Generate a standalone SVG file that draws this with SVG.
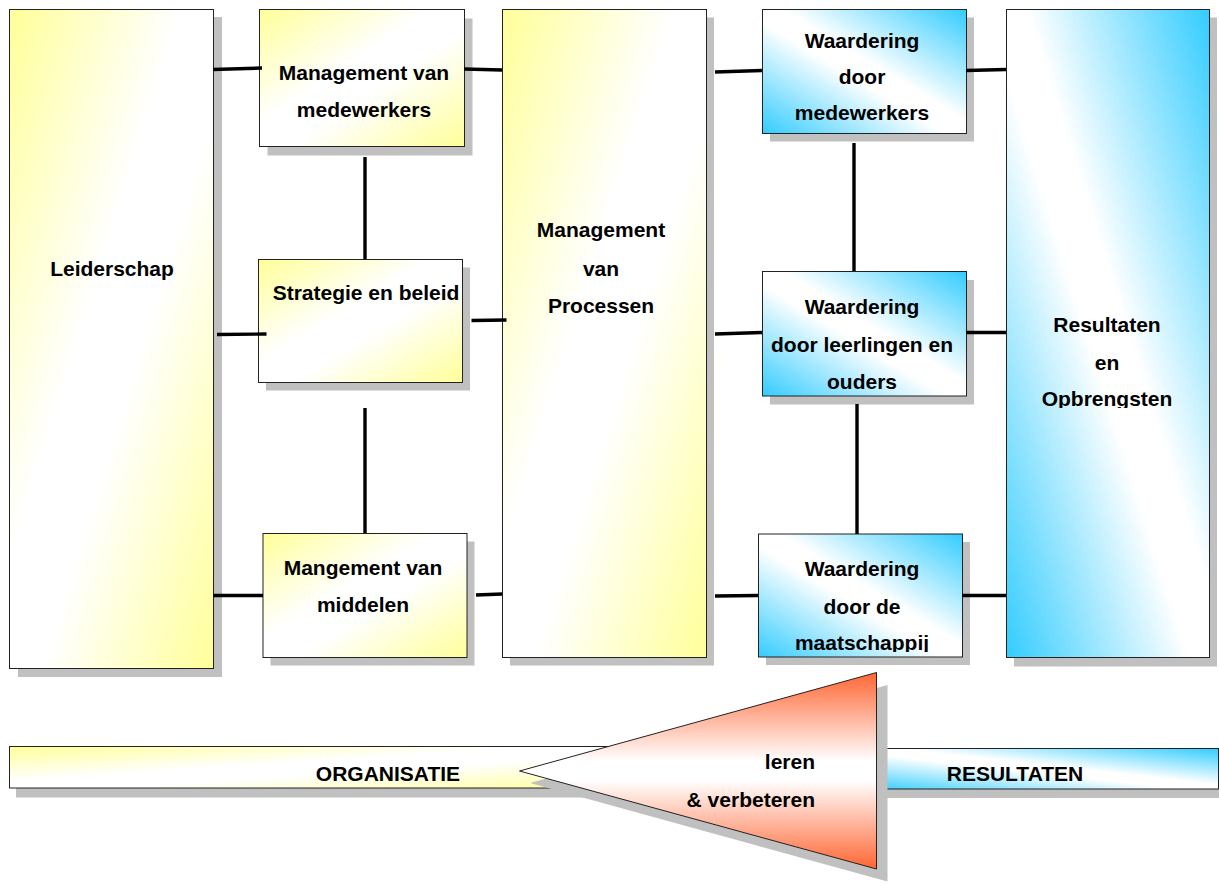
<svg xmlns="http://www.w3.org/2000/svg" width="1219" height="884" viewBox="0 0 1219 884">
  <defs>
    <!-- diagonal yellow / white / yellow fill -->
    <linearGradient id="gYellow" x1="0" y1="0" x2="1" y2="1">
      <stop offset="0" stop-color="#ffff99"/>
      <stop offset="0.42" stop-color="#ffffff"/>
      <stop offset="0.58" stop-color="#ffffff"/>
      <stop offset="1" stop-color="#ffff99"/>
    </linearGradient>
    <!-- diagonal blue / white / blue fill -->
    <linearGradient id="gBlue" x1="0" y1="1" x2="1" y2="0">
      <stop offset="0" stop-color="#33ccff"/>
      <stop offset="0.45" stop-color="#ffffff"/>
      <stop offset="0.55" stop-color="#ffffff"/>
      <stop offset="1" stop-color="#33ccff"/>
    </linearGradient>
    <!-- vertical orange / white / orange fill -->
    <linearGradient id="gOrange" x1="0" y1="0" x2="0" y2="1">
      <stop offset="0" stop-color="#ff6633"/>
      <stop offset="0.45" stop-color="#ffffff"/>
      <stop offset="0.55" stop-color="#ffffff"/>
      <stop offset="1" stop-color="#ff6633"/>
    </linearGradient>
    <clipPath id="clipMaat"><rect x="758" y="534" width="204" height="118"/></clipPath>
    <clipPath id="clipRes"><rect x="1006" y="9" width="203" height="399"/></clipPath>
    <style>
      .shadow { fill: #c0c0c0; }
      .box { stroke: #222222; stroke-width: 1; }
      .yel { fill: url(#gYellow); }
      .blu { fill: url(#gBlue); }
      .lbl { font-family: "Liberation Sans", Arial, Helvetica, sans-serif; font-weight: bold; font-size: 21px; fill: #000000; text-anchor: middle; }
      .conn { stroke: #000000; stroke-width: 3.4; fill: none; }
    </style>
  </defs>

  <rect width="1219" height="884" fill="#ffffff"/>

  <!-- left column -->
  <g id="leiderschap">
    <rect class="shadow" x="18" y="17" width="204" height="660"/>
    <rect class="box yel" x="9.5" y="9.5" width="204" height="659"/>
    <text class="lbl" x="112" y="276">Leiderschap</text>
  </g>

  <g id="management-medewerkers">
    <rect class="shadow" x="267.5" y="18.5" width="205" height="137"/>
    <rect class="box yel" x="259.5" y="9.5" width="205" height="137"/>
    <text class="lbl" x="364" y="80">Management van</text>
    <text class="lbl" x="364" y="117">medewerkers</text>
  </g>

  <g id="strategie-beleid">
    <rect class="shadow" x="266" y="267.5" width="204" height="123"/>
    <rect class="box yel" x="258.5" y="259.5" width="204" height="123"/>
    <text class="lbl" x="366" y="300">Strategie en beleid</text>
  </g>

  <g id="management-middelen">
    <rect class="shadow" x="270.5" y="541.5" width="204" height="124"/>
    <rect class="box yel" x="263" y="533.5" width="204" height="124"/>
    <text class="lbl" x="363" y="575">Mangement van</text>
    <text class="lbl" x="363" y="612">middelen</text>
  </g>

  <g id="management-processen">
    <rect class="shadow" x="510" y="17.5" width="204" height="648"/>
    <rect class="box yel" x="502.5" y="9.5" width="204" height="648"/>
    <text class="lbl" x="601" y="237">Management</text>
    <text class="lbl" x="601" y="276">van</text>
    <text class="lbl" x="601" y="313">Processen</text>
  </g>

  <!-- right column -->
  <g id="waardering-medewerkers">
    <rect class="shadow" x="770" y="17.5" width="204" height="124"/>
    <rect class="box blu" x="762.5" y="9.5" width="204" height="124"/>
    <text class="lbl" x="862" y="48">Waardering</text>
    <text class="lbl" x="862" y="84">door</text>
    <text class="lbl" x="862" y="120">medewerkers</text>
  </g>

  <g id="waardering-leerlingen-ouders">
    <rect class="shadow" x="770" y="280" width="204" height="124.5"/>
    <rect class="box blu" x="762.5" y="271.5" width="204" height="124.5"/>
    <text class="lbl" x="862" y="314">Waardering</text>
    <text class="lbl" x="862" y="352">door leerlingen en</text>
    <text class="lbl" x="862" y="389">ouders</text>
  </g>

  <g id="waardering-maatschappij">
    <rect class="shadow" x="766" y="542" width="204" height="123"/>
    <rect class="box blu" x="758.5" y="534" width="204" height="123"/>
    <g clip-path="url(#clipMaat)">
      <text class="lbl" x="862" y="576">Waardering</text>
      <text class="lbl" x="862" y="614">door de</text>
      <text class="lbl" x="862" y="650">maatschappij</text>
    </g>
  </g>

  <g id="resultaten-opbrengsten">
    <rect class="shadow" x="1014" y="17.5" width="203" height="649"/>
    <rect class="box blu" x="1006.5" y="9.5" width="203" height="648"/>
    <g clip-path="url(#clipRes)">
      <text class="lbl" x="1107" y="332">Resultaten</text>
      <text class="lbl" x="1107" y="370">en</text>
      <text class="lbl" x="1107" y="406">Opbrengsten</text>
    </g>
  </g>

  <!-- links between the blocks -->
  <g id="connectors">
    <line class="conn" x1="213" y1="69.5" x2="262" y2="68"/>
    <line class="conn" x1="464" y1="69" x2="502" y2="70"/>
    <line class="conn" x1="365" y1="157" x2="365" y2="259"/>
    <line class="conn" x1="365" y1="408" x2="365" y2="533"/>
    <line class="conn" x1="217" y1="334.5" x2="266.5" y2="334"/>
    <line class="conn" x1="471.5" y1="320.5" x2="506.5" y2="320"/>
    <line class="conn" x1="213" y1="595.5" x2="263" y2="595.5"/>
    <line class="conn" x1="476" y1="595" x2="502" y2="594"/>
    <line class="conn" x1="715" y1="72" x2="762" y2="70.5"/>
    <line class="conn" x1="966" y1="70.5" x2="1006" y2="69.5"/>
    <line class="conn" x1="854" y1="143" x2="854" y2="271"/>
    <line class="conn" x1="715" y1="334" x2="762" y2="332.5"/>
    <line class="conn" x1="966" y1="332.5" x2="1006" y2="332.5"/>
    <line class="conn" x1="857" y1="404" x2="857" y2="534"/>
    <line class="conn" x1="715" y1="596" x2="758" y2="595.5"/>
    <line class="conn" x1="962" y1="595.5" x2="1006" y2="595.5"/>
  </g>

  <!-- bottom band -->
  <g id="organisatie">
    <rect class="shadow" x="16" y="754" width="631" height="43.5"/>
    <rect class="box yel" x="9.5" y="746.5" width="631" height="41.5"/>
    <text class="lbl" x="388" y="781">ORGANISATIE</text>
  </g>

  <g id="resultaten">
    <rect class="shadow" x="868" y="756" width="360" height="42"/>
    <rect class="box blu" x="860" y="748.5" width="358.5" height="40.5"/>
    <text class="lbl" x="1015" y="781">RESULTATEN</text>
  </g>

  <g id="leren-verbeteren">
    <polygon class="shadow" points="530,783 887.5,685 887.5,881.5"/>
    <polygon fill="url(#gOrange)" stroke="#222222" stroke-width="1" points="519.5,771 876.5,672.5 876.5,869"/>
    <text class="lbl" x="815" y="769" style="text-anchor:end">leren</text>
    <text class="lbl" x="815" y="806.5" style="text-anchor:end">&amp; verbeteren</text>
  </g>
</svg>
